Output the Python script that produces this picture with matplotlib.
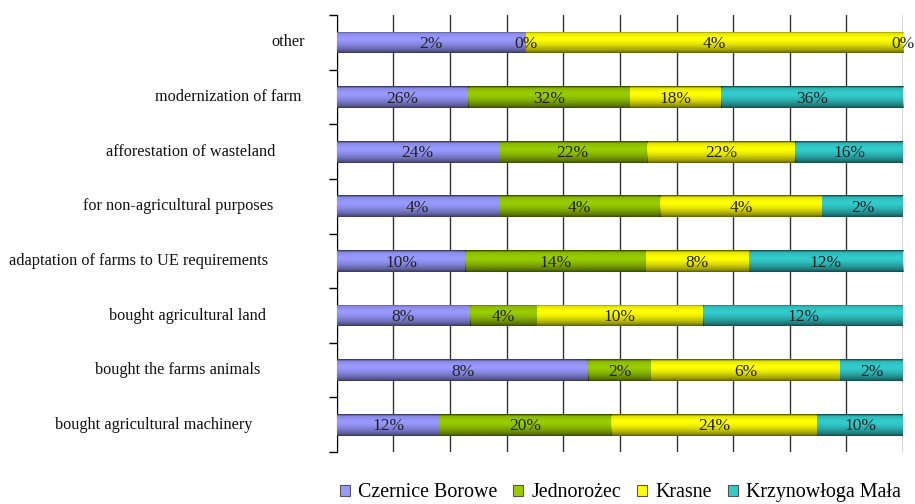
import numpy as np
import matplotlib
matplotlib.use('Agg')
import matplotlib.pyplot as plt
from matplotlib.patches import Patch

categories = ['other', 'modernization of farm', 'afforestation of wasteland',
              'for non-agricultural purposes', 'adaptation of farms to UE requirements',
              'bought agricultural land', 'bought the farms animals',
              'bought agricultural machinery']
czernice = [2, 26, 24, 4, 10, 8, 8, 12]
jednorozec = [0, 32, 22, 4, 14, 4, 2, 20]
krasne = [4, 18, 22, 4, 8, 10, 6, 24]
krzynowloga = [0, 36, 16, 2, 12, 12, 2, 10]
series_names = ['Czernice Borowe', 'Jednorożec', 'Krasne', 'Krzynowłoga Mała']
colors = ['#9999ff', '#99cc00', '#ffff00', '#33cccc']

# pixel gaps between axis and category label (labels are hand placed in the original)
label_pad = [32, 35, 61, 63, 69, 71, 76, 84]

plt.rcParams['font.family'] = ['Liberation Serif', 'DejaVu Serif']

values = np.array([czernice, jednorozec, krasne, krzynowloga], dtype=float)
shares = values / values.sum(axis=0) * 100
ypos = np.arange(len(categories))

fig = plt.figure(figsize=(9.15, 5.04), dpi=100)
ax = fig.add_axes([0.368, 0.103, 0.619, 0.867])

# vertical shading profile for the cylinder look
t = np.linspace(0, 1, 64)
shade = 0.55 * np.clip(np.abs(t - 0.35) / 0.65, 0, 1) ** 1.6
shade[:4] = 0.6
shade[-4:] = 0.6

left = np.zeros(len(categories))
for k in range(4):
    bars = ax.barh(ypos, shares[k], left=left, height=0.4, color=colors[k],
                   edgecolor='none', zorder=3)
    for p, v in zip(bars.patches, values[k]):
        x0, y0 = p.get_x(), p.get_y()
        w, h = p.get_width(), p.get_height()
        if w > 0:
            rgba = np.zeros((64, 1, 4))
            rgba[:, 0, 3] = shade
            im = ax.imshow(rgba, extent=[x0, x0 + w, y0 + h, y0], aspect='auto',
                           interpolation='bilinear', zorder=4)
            im.set_clip_path(p)
        ax.text(x0 + w / 2, y0 + h / 2 + 0.03, f'{v:.0f}%', ha='center', va='center',
                fontsize=12.5, color='#222222', zorder=5)
    left += shares[k]

ax.set_xlim(0, 100)
ax.set_ylim(len(categories) - 0.5, -0.5)
ax.set_xticks(np.arange(0, 101, 10))
ax.tick_params(axis='x', length=0, labelbottom=False)
ax.grid(axis='x', color='#333333', linewidth=1, zorder=0)
ax.set_axisbelow(True)

ax.set_yticks(np.arange(-0.5, len(categories), 1))
ax.set_yticklabels([])
ax.tick_params(axis='y', direction='out', length=6, width=1, color='black')
for side in ['top', 'right', 'bottom']:
    ax.spines[side].set_visible(False)
ax.spines['left'].set_color('black')

for i, (cat, pad) in enumerate(zip(categories, label_pad)):
    ax.annotate(cat, xy=(0, i), xycoords=('axes fraction', 'data'),
                xytext=(-pad, 0), textcoords='offset pixels',
                ha='right', va='center', fontsize=11.7, color='#111111')

handles = [Patch(facecolor=c, edgecolor='#555555', linewidth=0.8) for c in colors]
fig.legend(handles, series_names, loc='center', bbox_to_anchor=(0.678, 0.022),
           ncol=4, frameon=False, fontsize=14.4, handlelength=0.5, handleheight=0.5,
           handletextpad=0.4, columnspacing=0.8, borderaxespad=0)

fig.savefig('out.png', dpi=100)
